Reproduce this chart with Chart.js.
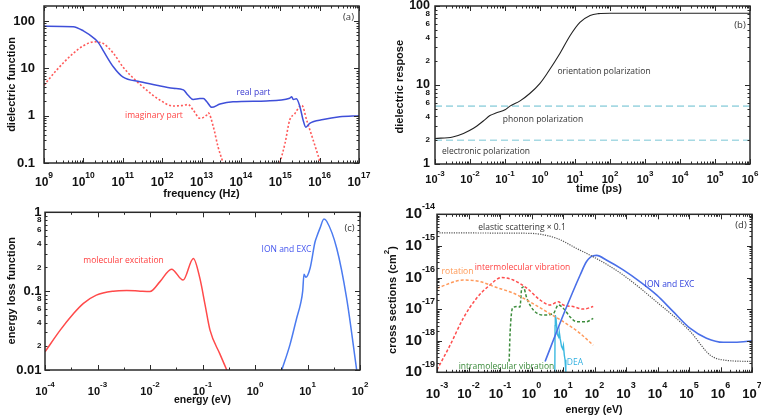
<!DOCTYPE html>
<html>
<head>
<meta charset="utf-8">
<script src="https://cdn.jsdelivr.net/npm/chart.js@4.4.1/dist/chart.umd.min.js"></script>
<style>
  body { margin: 0; background: #fff; width: 761px; height: 415px; position: relative; overflow: hidden; }
  .panel { position: absolute; }
  canvas { display: block; }
</style>
</head>
<body>
<div class="panel" style="left:0;top:0"><canvas id="chartA" width="380" height="207"></canvas></div>
<div class="panel" style="left:380px;top:0"><canvas id="chartB" width="381" height="207"></canvas></div>
<div class="panel" style="left:0;top:197px"><canvas id="chartC" width="380" height="218"></canvas></div>
<div class="panel" style="left:380px;top:197px"><canvas id="chartD" width="381" height="218"></canvas></div>
<script>
// (a) dielectric function vs frequency
const aRealFreq = [1e9, 5.5e9, 1e10, 1.95e10, 2.4e10, 3.16e10, 5.75e10, 1e11, 2.75e11, 7.2e11, 1.9e12, 3.47e12, 4.57e12, 6.17e12, 9.1e12, 1.12e13, 1.35e13, 1.82e13, 2.95e13, 6.3e13, 4.47e14, 1.74e15, 1.95e15, 2.14e15, 2.57e15, 3.16e15, 3.8e15, 4.47e15, 5.6e15, 1.23e16, 3.24e16, 1e17];
const aRealEps = [78, 76, 62, 42, 35, 24, 10.8, 6.6, 5.2, 4.4, 3.8, 3.5, 2.7, 2.2, 2.3, 2.3, 2.0, 1.5, 1.76, 1.97, 2.05, 2.33, 2.5, 2.2, 2.27, 1.55, 0.81, 0.57, 0.69, 0.83, 0.95, 1.0];
const aImagFreq1 = [1e9, 2.1e9, 5.5e9, 1e10, 1.95e10, 2.4e10, 3.16e10, 5.75e10, 1e11, 1.86e11, 3.98e11, 8.7e11, 1.9e12, 3.47e12, 4.57e12, 6.17e12, 9.1e12, 1.35e13, 1.48e13, 2.0e13, 2.63e13, 3.55e13];
const aImagEps1 = [4.4, 9.2, 20.7, 30, 36.5, 35.8, 33.7, 21, 10.8, 6.2, 3.5, 2.14, 1.6, 1.65, 1.72, 1.31, 0.88, 1.03, 1.15, 0.58, 0.22, 0.1];
const aImagFreq2 = [9.8e14, 1.32e15, 1.74e15, 2.34e15, 3.16e15, 3.55e15, 4.68e15, 6.9e15, 1.05e16];
const aImagEps2 = [0.1, 0.26, 0.81, 1.1, 1.6, 1.65, 0.81, 0.3, 0.1];
const aXTicks = [1e9, 1e10, 1e11, 1e12, 1e13, 1e14, 1e15, 1e16, 1e17];
const aXLabels = ['10^9', '10^10', '10^11', '10^12', '10^13', '10^14', '10^15', '10^16', '10^17'];
const aYTicks = [0.1, 1, 10, 100];
const aYLabels = ['0.1', '1', '10', '100'];

// (b) dielectric response vs time
const bTime = [1e-3, 3.2e-3, 6.5e-3, 1.26e-2, 2.4e-2, 3.7e-2, 5.75e-2, 0.1, 0.138, 0.27, 0.51, 1.0, 1.7, 3.7, 7.2, 13.8, 27, 47, 100, 1e6];
const bResp = [2.1, 2.2, 2.44, 2.83, 3.5, 4.1, 4.45, 4.85, 5.4, 6.3, 7.8, 10.5, 14.6, 25, 42, 62, 76, 80, 81, 81];
const bLevelTime = [1e-3, 1e6];
const bPhononLevel = 5.4;
const bElectronicLevel = 2.0;
const bXTicks = [1e-3, 1e-2, 1e-1, 1, 10, 100, 1e3, 1e4, 1e5, 1e6];
const bXLabels = ['10^-3', '10^-2', '10^-1', '10^0', '10^1', '10^2', '10^3', '10^4', '10^5', '10^6'];
const bYTicks = [1, 10, 100];
const bYLabels = ['1', '10', '100'];
const bYMinorTicks = [2, 4, 6, 8, 20, 40, 60, 80];
const bYMinorLabels = ['2', '4', '6', '8', '2', '4', '6', '8'];

// (c) energy loss function vs energy
const cMolE = [1e-4, 1.95e-4, 3.5e-4, 5.4e-4, 9.5e-4, 2e-3, 3.6e-3, 6.5e-3, 1e-2, 1.55e-2, 2.57e-2, 4.27e-2, 6.7e-2, 8.9e-2, 0.112, 0.139, 0.214, 0.29];
const cMolLoss = [0.017, 0.032, 0.052, 0.07, 0.089, 0.1, 0.102, 0.1, 0.099, 0.132, 0.19, 0.138, 0.26, 0.146, 0.067, 0.032, 0.016, 0.01];
const cIonE = [3.24, 4.64, 6.2, 7.4, 8.1, 8.57, 9.3, 11.2, 13.9, 15, 17.3, 20.6, 23.2, 36, 55.7, 86.5];
const cIonLoss = [0.01, 0.021, 0.045, 0.07, 0.1, 0.164, 0.15, 0.195, 0.42, 0.49, 0.63, 0.82, 0.77, 0.35, 0.081, 0.01];
const cXTicks = [1e-4, 1e-3, 1e-2, 1e-1, 1, 10, 100];
const cXLabels = ['10^-4', '10^-3', '10^-2', '10^-1', '10^0', '10^1', '10^2'];
const cYTicks = [0.01, 0.1, 1];
const cYLabels = ['0.01', '0.1', '1'];
const cYMinorTicks = [0.02, 0.04, 0.06, 0.08, 0.2, 0.4, 0.6, 0.8];
const cYMinorLabels = ['2', '4', '6', '8', '2', '4', '6', '8'];

// (d) cross sections vs energy
const dElasticE = [1e-3, 0.1, 0.89, 6.3, 27, 72, 245, 813, 9330, 1.07e5, 4.7e5, 1.23e6, 1e7];
const dElasticSigma = [2.6e-15, 2.55e-15, 2.5e-15, 1.74e-15, 8.3e-16, 5.1e-16, 2.6e-16, 1.2e-16, 1.7e-17, 2e-18, 3.5e-19, 2.45e-19, 2.2e-19];
const dIonE = [2.7, 10.2, 35, 56, 91, 117, 245, 813, 2750, 9330, 3.16e4, 1.07e5, 3.6e5, 1.23e6, 4.2e6, 1e7];
const dIonSigma = [2.2e-19, 6.5e-18, 1.2e-16, 3.2e-16, 4.9e-16, 5e-16, 3.5e-16, 1.74e-16, 7.4e-17, 2.8e-17, 8.3e-18, 2.5e-18, 1.2e-18, 8.9e-19, 9.1e-19, 1.0e-18];
const dRotE = [1e-3, 6.8e-3, 2.3e-2, 7.9e-2, 0.263, 0.89, 3.0, 10.2, 35, 91];
const dRotSigma = [4.6e-17, 8.3e-17, 7.4e-17, 4.8e-17, 3.2e-17, 1.7e-17, 8.3e-18, 4e-18, 1.7e-18, 7.2e-19];
const dInterE = [1e-3, 2.6e-3, 6.8e-3, 1.8e-2, 4.8e-2, 0.112, 0.263, 0.71, 1.86, 3.9, 7.1, 10.2, 21, 44, 91];
const dInterSigma = [1.2e-19, 7.2e-19, 5.1e-18, 2.2e-17, 5.8e-17, 1e-16, 8.3e-17, 4.6e-17, 1.95e-17, 1.35e-17, 1.7e-17, 1.35e-17, 1.2e-17, 1e-17, 1.2e-17];
const dIntraE = [0.195, 0.21, 0.25, 0.355, 0.43, 0.49, 0.55, 0.71, 1.15, 2.34, 4.9, 7.1, 10.2, 16.6, 27, 56, 91];
const dIntraSigma = [2.2e-19, 1.9e-18, 1.07e-17, 1.2e-17, 1.17e-17, 4.6e-17, 5e-17, 2.2e-17, 9.3e-18, 6.5e-18, 7.2e-18, 1.35e-17, 1.07e-17, 5.75e-18, 4e-18, 4e-18, 5.1e-18];
const dDeaE = [5.5, 5.6, 5.7, 6.0, 6.6, 7.3, 7.6, 8.1, 9.0, 9.8, 10.3, 11.0, 11.6, 12.3];
const dDeaSigma = [1e-19, 3e-18, 6.5e-18, 5e-18, 1.6e-18, 1.3e-18, 1.9e-18, 1.2e-18, 6.5e-19, 5.5e-19, 7e-19, 3.5e-19, 2.5e-19, 1e-19];
const dXTicks = [1e-3, 1e-2, 1e-1, 1, 10, 100, 1e3, 1e4, 1e5, 1e6, 1e7];
const dXLabels = ['10^-3', '10^-2', '10^-1', '10^0', '10^1', '10^2', '10^3', '10^4', '10^5', '10^6', '10^7'];
const dYTicks = [1e-19, 1e-18, 1e-17, 1e-16, 1e-15, 1e-14];
const dYLabels = ['10^-19', '10^-18', '10^-17', '10^-16', '10^-15', '10^-14'];

const TICK_FONT = '"Liberation Sans", Arial, sans-serif';
const NOTE_FONT = '"Open Sans", "Noto Sans", sans-serif';

function pts(xs, ys) {
  return xs.map((x, i) => ({ x: x, y: ys[i] }));
}

// minor tick marks 2..9 in every decade
function logMinors(min, max) {
  const out = [];
  for (let e = Math.floor(Math.log10(min)); e <= Math.ceil(Math.log10(max)); e++) {
    for (let k = 2; k <= 9; k++) {
      const v = k * Math.pow(10, e);
      if (v > min * 1.0001 && v < max * 0.9999) out.push(v);
    }
  }
  return out;
}

function halfDecades(min, max) {
  const out = [];
  for (let e = Math.floor(Math.log10(min)); e < Math.ceil(Math.log10(max)); e++) {
    out.push(Math.pow(10, e + 0.5));
  }
  return out;
}

function powLabel(label, size, expSize, rise) {
  const parts = label.split('^');
  const out = [{ t: parts[0], size: size }];
  if (parts.length > 1) out.push({ t: parts[1], size: expSize, rise: rise });
  return out;
}

function drawRich(ctx, parts, x, y, align) {
  let total = 0;
  const widths = parts.map(p => {
    ctx.font = 'bold ' + p.size + 'px ' + TICK_FONT;
    const w = ctx.measureText(p.t).width;
    total += w;
    return w;
  });
  let cx = align === 'center' ? x - total / 2 : (align === 'right' ? x - total : x);
  ctx.textAlign = 'left';
  ctx.textBaseline = 'middle';
  parts.forEach((p, i) => {
    ctx.font = 'bold ' + p.size + 'px ' + TICK_FONT;
    ctx.fillText(p.t, cx, y - (p.rise || 0));
    cx += widths[i];
  });
}

// frame, inward ticks, tick labels, titles and notes
function decorPlugin(d) {
  return {
    id: 'decor',
    afterDatasetsDraw(chart) {
      const ctx = chart.ctx;
      const a = chart.chartArea;
      const xs = chart.scales.x;
      const ys = chart.scales.y;
      ctx.save();
      ctx.strokeStyle = '#2a2a2a';
      ctx.lineWidth = 1;
      ctx.beginPath();
      const tickX = (vals, len) => vals.forEach(v => {
        const p = Math.round(xs.getPixelForValue(v)) + 0.5;
        ctx.moveTo(p, a.bottom); ctx.lineTo(p, a.bottom - len);
        ctx.moveTo(p, a.top); ctx.lineTo(p, a.top + len);
      });
      const tickY = (vals, len) => vals.forEach(v => {
        const p = Math.round(ys.getPixelForValue(v)) + 0.5;
        ctx.moveTo(a.left, p); ctx.lineTo(a.left + len, p);
        ctx.moveTo(a.right, p); ctx.lineTo(a.right - len, p);
      });
      tickX(d.xMajor, 5);
      tickX(d.xMinor, 2.5);
      tickY(d.yMajor, 5);
      tickY(d.yMinor, 2.5);
      ctx.stroke();
      ctx.lineWidth = 1.5;
      ctx.strokeRect(a.left, a.top, a.right - a.left, a.bottom - a.top);

      ctx.fillStyle = '#111';
      d.xLabels.forEach(g => g.values.forEach((v, i) => {
        drawRich(ctx, powLabel(g.labels[i], g.size, g.expSize, g.rise), xs.getPixelForValue(v), a.bottom + g.offset, 'center');
      }));
      d.yLabels.forEach(g => g.values.forEach((v, i) => {
        drawRich(ctx, powLabel(g.labels[i], g.size, g.expSize, g.rise), a.left - g.offset, ys.getPixelForValue(v), 'right');
      }));
      drawRich(ctx, d.xTitle.parts, d.xTitle.x, d.xTitle.y, 'center');
      ctx.save();
      ctx.translate(d.yTitle.x, d.yTitle.y);
      ctx.rotate(-Math.PI / 2);
      drawRich(ctx, d.yTitle.parts, 0, 0, 'center');
      ctx.restore();

      d.notes.forEach(n => {
        ctx.font = (n.size || 8.5) + 'px ' + NOTE_FONT;
        ctx.fillStyle = n.color || '#333';
        ctx.textAlign = 'center';
        ctx.textBaseline = 'middle';
        ctx.fillText(n.text, n.x, n.y);
      });
      ctx.restore();
    }
  };
}

function makeChart(id, box, axes, datasets, decor) {
  const canvas = document.getElementById(id);
  const W = canvas.width, H = canvas.height;
  return new Chart(canvas, {
    type: 'line',
    data: { datasets: datasets },
    options: {
      responsive: false,
      animation: false,
      events: [],
      layout: { padding: { top: box.top, right: W - box.right, left: 0, bottom: 0 } },
      plugins: { legend: { display: false }, tooltip: { enabled: false } },
      elements: {
        point: { radius: 0 },
        line: { borderWidth: 1.5, cubicInterpolationMode: 'monotone', fill: false }
      },
      scales: {
        x: {
          type: 'logarithmic', min: axes.xMin, max: axes.xMax,
          ticks: { display: false }, grid: { display: false }, border: { display: false },
          afterFit: s => { s.height = H - box.bottom; }
        },
        y: {
          type: 'logarithmic', min: axes.yMin, max: axes.yMax,
          ticks: { display: false }, grid: { display: false }, border: { display: false },
          afterFit: s => { s.width = box.left; }
        }
      }
    },
    plugins: [decorPlugin(decor)]
  });
}

// Panel (a)
makeChart('chartA', { left: 44, top: 6, right: 359, bottom: 163 },
  { xMin: 1e9, xMax: 1e17, yMin: 0.1, yMax: 207.5 },
  [
    { data: pts(aRealFreq, aRealEps), borderColor: '#3f4fd9', borderWidth: 1.5 },
    { data: pts(aImagFreq1, aImagEps1), borderColor: '#ff5a5a', borderWidth: 1.6, borderDash: [2, 2] },
    { data: pts(aImagFreq2, aImagEps2), borderColor: '#ff5a5a', borderWidth: 1.6, borderDash: [2, 2] }
  ],
  {
    xMajor: aXTicks, xMinor: logMinors(1e9, 1e17),
    yMajor: aYTicks, yMinor: logMinors(0.1, 207.5),
    xLabels: [{ values: aXTicks, labels: aXLabels, size: 12, expSize: 8.5, rise: 7, offset: 19.5 }],
    yLabels: [{ values: aYTicks, labels: aYLabels, size: 13, expSize: 9, rise: 7, offset: 9 }],
    xTitle: { parts: [{ t: 'frequency (Hz)', size: 11 }], x: 201.5, y: 194 },
    yTitle: { parts: [{ t: 'dielectric function', size: 11 }], x: 12, y: 84.5 },
    notes: [
      { text: 'real part', x: 253.5, y: 93, color: '#3a3ad0' },
      { text: 'imaginary part', x: 154, y: 116, color: '#ff4444' },
      { text: '(a)', x: 348.5, y: 17, color: '#333', size: 9.5 }
    ]
  });

// Panel (b)
makeChart('chartB', { left: 55, top: 6, right: 370, bottom: 164 },
  { xMin: 1e-3, xMax: 1e6, yMin: 1, yMax: 100 },
  [
    { data: pts(bTime, bResp), borderColor: '#222', borderWidth: 1.1 },
    { data: pts(bLevelTime, [bPhononLevel, bPhononLevel]), borderColor: '#a6d9e3', borderWidth: 1.6, borderDash: [7, 4] },
    { data: pts(bLevelTime, [bElectronicLevel, bElectronicLevel]), borderColor: '#a6d9e3', borderWidth: 1.6, borderDash: [7, 4] }
  ],
  {
    xMajor: bXTicks, xMinor: logMinors(1e-3, 1e6),
    yMajor: bYTicks, yMinor: logMinors(1, 100),
    xLabels: [{ values: bXTicks, labels: bXLabels, size: 11, expSize: 8, rise: 6.5, offset: 16 }],
    yLabels: [
      { values: bYTicks, labels: bYLabels, size: 12.5, expSize: 8, rise: 6, offset: 5 },
      { values: bYMinorTicks, labels: bYMinorLabels, size: 8, expSize: 6, rise: 4, offset: 5 }
    ],
    xTitle: { parts: [{ t: 'time (ps)', size: 11 }], x: 219, y: 189 },
    yTitle: { parts: [{ t: 'dielectric respose', size: 11 }], x: 20, y: 86.7 },
    notes: [
      { text: 'orientation polarization', x: 224, y: 72 },
      { text: 'phonon polarization', x: 163, y: 120 },
      { text: 'electronic polarization', x: 106, y: 151.7 },
      { text: '(b)', x: 360, y: 25, size: 9.5 }
    ]
  });

// Panel (c)
makeChart('chartC', { left: 45, top: 15.3, right: 360, bottom: 173 },
  { xMin: 1e-4, xMax: 100, yMin: 0.01, yMax: 1 },
  [
    { data: pts(cMolE, cMolLoss), borderColor: '#ff4a4a', borderWidth: 1.5 },
    { data: pts(cIonE, cIonLoss), borderColor: '#4b7bf0', borderWidth: 1.5 }
  ],
  {
    xMajor: cXTicks, xMinor: halfDecades(1e-4, 100),
    yMajor: cYTicks, yMinor: logMinors(0.01, 1),
    xLabels: [{ values: cXTicks, labels: cXLabels, size: 11, expSize: 8, rise: 7, offset: 21.7 }],
    yLabels: [
      { values: cYTicks, labels: cYLabels, size: 13, expSize: 8, rise: 6, offset: 3.5 },
      { values: cYMinorTicks, labels: cYMinorLabels, size: 8, expSize: 6, rise: 4, offset: 3.5 }
    ],
    xTitle: { parts: [{ t: 'energy (eV)', size: 10.5 }], x: 202.5, y: 203.5 },
    yTitle: { parts: [{ t: 'energy loss function', size: 11 }], x: 12, y: 93.7 },
    notes: [
      { text: 'molecular excitation', x: 123.5, y: 64, color: '#ff4040' },
      { text: 'ION and EXC', x: 286.5, y: 52.3, color: '#4455ee' },
      { text: '(c)', x: 349.5, y: 31, size: 9.5 }
    ]
  });

// Panel (d)
makeChart('chartD', { left: 57, top: 17.3, right: 372, bottom: 175.3 },
  { xMin: 1e-3, xMax: 1e7, yMin: 1e-19, yMax: 1e-14 },
  [
    { data: pts(dElasticE, dElasticSigma), borderColor: '#555', borderWidth: 1.2, borderDash: [1.2, 1.2] },
    { data: pts(dIonE, dIonSigma), borderColor: '#4a6fe8', borderWidth: 1.6 },
    { data: pts(dRotE, dRotSigma), borderColor: '#ff9a5c', borderWidth: 1.5, borderDash: [3, 2] },
    { data: pts(dInterE, dInterSigma), borderColor: '#ff4d4d', borderWidth: 1.5, borderDash: [3, 2] },
    { data: pts(dIntraE, dIntraSigma), borderColor: '#3c8c3c', borderWidth: 1.5, borderDash: [3, 2] },
    { data: pts(dDeaE, dDeaSigma), borderColor: '#3ab8e0', borderWidth: 1.4, cubicInterpolationMode: 'default', tension: 0 }
  ],
  {
    xMajor: dXTicks, xMinor: logMinors(1e-3, 1e7),
    yMajor: dYTicks, yMinor: logMinors(1e-19, 1e-14),
    xLabels: [{ values: dXTicks, labels: dXLabels, size: 13, expSize: 9, rise: 8, offset: 21.7 }],
    yLabels: [{ values: dYTicks, labels: dYLabels, size: 15, expSize: 9, rise: 8, offset: 2 }],
    xTitle: { parts: [{ t: 'energy (eV)', size: 10.5 }], x: 214, y: 213 },
    yTitle: { parts: [{ t: 'cross sections (cm', size: 11 }, { t: '2', size: 8, rise: 6 }, { t: ')', size: 11 }], x: 12.7, y: 103 },
    notes: [
      { text: 'elastic scattering \u00d7 0.1', x: 142, y: 31, color: '#333' },
      { text: 'rotation', x: 77.5, y: 75, color: '#ff9955' },
      { text: 'intermolecular vibration', x: 142.5, y: 71, color: '#ff4444' },
      { text: 'ION and EXC', x: 289.5, y: 88, color: '#3344dd' },
      { text: 'intramolecular vibration', x: 126.5, y: 169.7, color: '#3a8a3a' },
      { text: 'DEA', x: 195, y: 166, color: '#33b0e0' },
      { text: '(d)', x: 361, y: 28, size: 9.5 }
    ]
  });
</script>
</body>
</html>
